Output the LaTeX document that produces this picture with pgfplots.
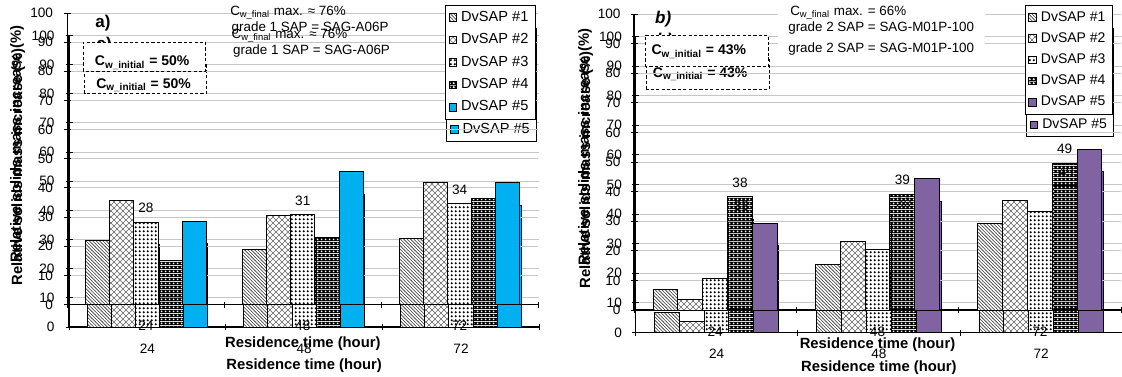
\documentclass[border=0pt]{standalone}
\usepackage{fontspec}
\setmainfont{Liberation Sans}
\usepackage{pgfplots}
\pgfplotsset{compat=1.18}
\usetikzlibrary{patterns}

\definecolor{skyb}{RGB}{0,176,240}
\definecolor{purp}{RGB}{128,100,162}

\pgfdeclarepatternformonly{diagA}{\pgfqpoint{-0.2pt}{-0.2pt}}{\pgfqpoint{1.9pt}{1.9pt}}{\pgfqpoint{1.7pt}{1.7pt}}{%
  \pgfsetlinewidth{0.3pt}%
  \pgfpathmoveto{\pgfqpoint{-0.1pt}{1.8pt}}\pgfpathlineto{\pgfqpoint{1.8pt}{-0.1pt}}%
  \pgfusepath{stroke}}
\pgfdeclarepatternformonly{xhatch}{\pgfqpoint{-0.2pt}{-0.2pt}}{\pgfqpoint{3.2pt}{3.2pt}}{\pgfqpoint{3pt}{3pt}}{%
  \pgfsetlinewidth{0.3pt}%
  \pgfpathmoveto{\pgfqpoint{0pt}{0pt}}\pgfpathlineto{\pgfqpoint{3pt}{3pt}}%
  \pgfpathmoveto{\pgfqpoint{0pt}{3pt}}\pgfpathlineto{\pgfqpoint{3pt}{0pt}}%
  \pgfusepath{stroke}}
\pgfdeclarepatternformonly{bigdots}{\pgfqpoint{0pt}{0pt}}{\pgfqpoint{2.1pt}{2.1pt}}{\pgfqpoint{2.1pt}{2.1pt}}{%
  \pgfpathcircle{\pgfqpoint{1.05pt}{1.05pt}}{0.66pt}\pgfusepath{fill}}
\pgfdeclarepatterninherentlycolored{darkring}{\pgfqpoint{0pt}{0pt}}{\pgfqpoint{2pt}{2pt}}{\pgfqpoint{2pt}{2pt}}{%
  \pgfsetfillcolor{black}\pgfpathrectangle{\pgfqpoint{0pt}{0pt}}{\pgfqpoint{2pt}{2pt}}\pgfusepath{fill}%
  \pgfsetfillcolor{white}\pgfpathcircle{\pgfqpoint{1pt}{1pt}}{0.6pt}\pgfusepath{fill}}

\pgfplotsset{
  lgimg/.style={legend image code/.code={\draw[##1] (0pt,-1.9pt) rectangle (3.8pt,1.9pt);}},
  b1/.style={draw=black, line width=0.5pt, preaction={fill=white}, pattern=diagA, pattern color=black!75, lgimg},
  b2/.style={draw=black, line width=0.5pt, preaction={fill=white}, pattern=xhatch, pattern color=black!60, lgimg},
  b3/.style={draw=black, line width=0.5pt, preaction={fill=white}, pattern=bigdots, pattern color=black, lgimg},
  b4/.style={draw=black, line width=0.5pt, pattern=darkring, lgimg},
  b5a/.style={draw=black, line width=0.5pt, fill=skyb, lgimg},
  b5b/.style={draw=black, line width=0.5pt, fill=purp, lgimg},
  mybase/.style={
    scale only axis, clip=false,
    xmin=-0.5, xmax=2.5, ymin=0, ymax=100,
    ybar=0pt,
    axis lines*=left, axis line style={-, black, line width=0.6pt},
    xtick={0,1,2}, xticklabels={24,48,72},
    minor xtick={-0.5,0.5,1.5,2.5},
    major x tick style={draw=none},
    minor x tick style={black, line width=0.5pt},
    minor tick length=3pt,
    ytick={0,10,...,100},
    major tick length=3.5pt,
    tick align=center,
    y tick style={black, line width=0.5pt},
    ymajorgrids, grid style={black!22, line width=0.5pt},
    /pgf/number format/assume math mode=true,
    tick label style={font=\fontsize{6.8}{7}\selectfont},
    xticklabel style={anchor=center, yshift=-9pt},
    legend cell align=left,
    legend style={draw=black, line width=0.5pt, fill=white, inner xsep=1.5pt, inner ysep=0.8pt, row sep=0.6pt},
  },
  lbl/.style={nodes near coords, point meta=explicit symbolic,
    every node near coord/.append style={font=\fontsize{6.8}{7}\selectfont, text=black, yshift=1pt}},
}

\newcommand{\panelA}[3]{%
\begin{axis}[mybase, at={(#1,#2)}, width=235.2pt, height=145.75pt, bar width=0.154,
  yticklabel style={xshift=-2pt},
  legend style={at={(0.9957,1.0274)}, anchor=north east, font=\fontsize{7.3}{8}\selectfont}]
\addplot[b1] coordinates {(0,22.1) (1,19.0) (2,22.5)};
\addplot[b2] coordinates {(0,35.8) (1,30.4) (2,42.0)};
\addplot[b3, lbl] coordinates {(0,28.3) [28] (1,30.8) [31] (2,34.5) [34]};
\addplot[b4] coordinates {(0,15.0) (1,23.0) (2,36.5)};
\addplot[b5a] coordinates {(0,28.5) (1,45.6) (2,41.7)};
\legend{DvSAP \#1, DvSAP \#2, DvSAP \#3, DvSAP \#4, DvSAP \#5}
\node[font=\bfseries\fontsize{8.5}{9}\selectfont] at (rel axis cs:0.075,0.966) {a)};
\draw[dashed, dash pattern=on 1.6pt off 1.1pt, line width=0.5pt, fill=white] (rel axis cs:0.033,0.801) rectangle (rel axis cs:0.293,0.9005);
\node[font=\bfseries\fontsize{7}{8}\selectfont, anchor=west] at (rel axis cs:0.043,0.83) {C\textsubscript{w\_initial} = 50\%};
\node[font=\fontsize{6.7}{7}\selectfont, anchor=west, inner sep=0pt] at (rel axis cs:0.345,1.0) {C\textsubscript{w\_final} max. ≈ 76\%};
\node[font=\fontsize{6.7}{7}\selectfont, anchor=west, inner sep=0pt] at (rel axis cs:0.348,0.948) {grade 1 SAP = SAG-A06P};
\node[rotate=90, font=\bfseries\fontsize{7.4}{8}\selectfont] at (rel axis cs:-0.1076,0.55) {Relative solids mass increase (\%)};
\node[font=\bfseries\fontsize{7.4}{8}\selectfont] at (rel axis cs:0.5,-0.1338) {Residence time (hour)};
#3
\end{axis}}

\newcommand{\panelB}[3]{%
\begin{axis}[mybase, at={(#1,#2)}, width=243.5pt, height=148pt, bar width=0.153,
  yticklabel style={xshift=-1.5pt},
  legend style={at={(0.9836,1.030)}, anchor=north east, font=\fontsize{7}{8}\selectfont, row sep=0.2pt}]
\addplot[b1] coordinates {(0,6.8) (1,15.5) (2,29.1)};
\addplot[b2] coordinates {(0,3.7) (1,23.1) (2,36.9)};
\addplot[b3] coordinates {(0,10.5) (1,20.3) (2,33.2)};
\addplot[b4, lbl] coordinates {(0,38.2) [38] (1,39.1) [39] (2,49.6) [49]};
\addplot[b5b] coordinates {(0,29.3) (1,44.3) (2,54.3)};
\legend{DvSAP \#1, DvSAP \#2, DvSAP \#3, DvSAP \#4, DvSAP \#5}
\node[font=\bfseries\itshape\fontsize{8.5}{9}\selectfont] at (rel axis cs:0.06,0.983) {b)};
\draw[dashed, dash pattern=on 1.6pt off 1.1pt, line width=0.5pt, fill=white] (rel axis cs:0.0226,0.821) rectangle (rel axis cs:0.2752,0.929);
\node[font=\bfseries\fontsize{7}{8}\selectfont] at (rel axis cs:0.133,0.872) {C\textsubscript{w\_initial} = 43\%};
\node[font=\fontsize{6.7}{7}\selectfont, anchor=west, inner sep=0pt] at (rel axis cs:0.32,1.003) {C\textsubscript{w\_final} max. = 66\%};
\node[font=\fontsize{6.7}{7}\selectfont, anchor=west, inner sep=0pt] at (rel axis cs:0.316,0.953) {grade 2 SAP = SAG-M01P-100};
\node[rotate=90, font=\bfseries\fontsize{7.4}{8}\selectfont] at (rel axis cs:-0.1006,0.55) {Relative solids mass increase (\%)};
\node[font=\bfseries\fontsize{7.4}{8}\selectfont] at (rel axis cs:0.5,-0.118) {Residence time (hour)};
#3
\end{axis}}

\begin{document}
\begin{tikzpicture}
\useasboundingbox (0,0) rectangle (561pt,188pt);
% shifted copy (double exposure in the reference)
\panelA{34.5pt}{24.5pt}{}
\panelB{317.7pt}{21.75pt}{}
% main layer
\panelA{33.8pt}{35.75pt}{}
\panelB{317pt}{33pt}{%
\fill[white] (rel axis cs:0.296,0.828) rectangle (rel axis cs:0.721,1.047);
\node[font=\fontsize{6.7}{7}\selectfont, anchor=west, inner sep=0pt] at (rel axis cs:0.32,1.003) {C\textsubscript{w\_final} max. = 66\%};
\node[font=\fontsize{6.7}{7}\selectfont, anchor=west, inner sep=0pt] at (rel axis cs:0.316,0.953) {grade 2 SAP = SAG-M01P-100};
\node[font=\fontsize{6.7}{7}\selectfont, anchor=west, inner sep=0pt] at (rel axis cs:0.316,0.882) {grade 2 SAP = SAG-M01P-100};
}
\end{tikzpicture}
\end{document}
